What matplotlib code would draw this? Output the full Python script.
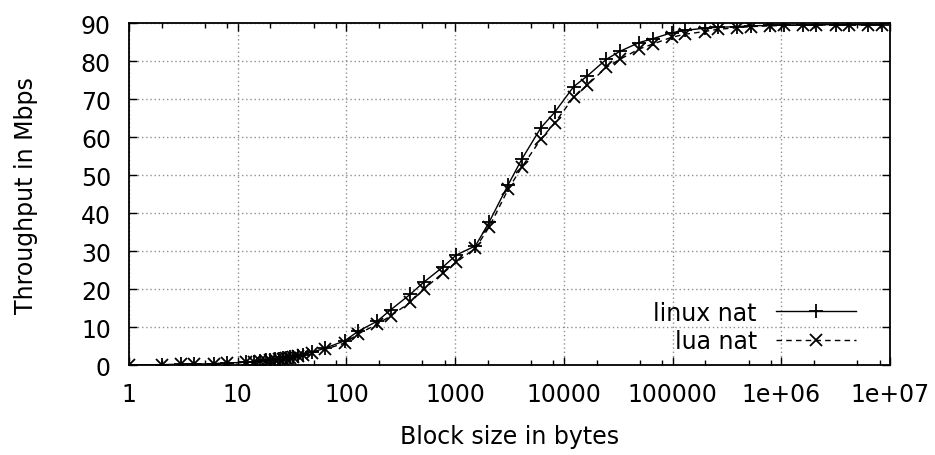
import matplotlib
matplotlib.use("Agg")
import matplotlib.pyplot as plt
from matplotlib.ticker import FixedLocator, FixedFormatter, LogLocator, NullFormatter

# --- data ---
block_sizes = [1, 2, 3, 4, 6, 8, 12, 14, 16, 18, 20, 22, 24, 26, 28, 30, 32, 36, 40, 48, 64,
               96, 128, 192, 256, 384, 512, 768, 1024, 1536, 2048, 3072, 4096, 6144, 8192,
               12288, 16384, 24576, 32768, 49152, 65536, 98304, 131072, 196608, 262144,
               393216, 524288, 786432, 1048576, 1572864, 2097152, 3145728, 4194304,
               6291456, 8388608]

linux_nat = [0.07, 0.14, 0.2, 0.27, 0.4, 0.55, 0.8, 0.95, 1.1, 1.25, 1.4, 1.5, 1.65, 1.8,
             1.95, 2.1, 2.25, 2.5, 2.8, 3.4, 4.5,
             6.4, 8.9, 11.6, 14.6, 18.6, 21.8, 25.8, 29.0, 31.4, 37.6, 47.5, 54.2, 62.5, 66.5,
             73.3, 76.1, 80.5, 82.6, 84.9, 85.9, 87.5, 88.1, 88.7, 88.9,
             89.1, 89.3, 89.4, 89.5, 89.5, 89.6, 89.6, 89.6,
             89.6, 89.6]

lua_nat = [0.06, 0.13, 0.19, 0.25, 0.37, 0.5, 0.75, 0.88, 1.0, 1.15, 1.3, 1.4, 1.55, 1.7,
           1.8, 1.95, 2.1, 2.35, 2.6, 3.2, 4.2,
           5.8, 8.2, 10.8, 13.0, 16.5, 20.0, 24.2, 27.1, 30.8, 36.3, 46.3, 52.1, 59.5, 63.7,
           70.5, 73.7, 78.4, 80.5, 83.2, 84.5, 86.3, 87.1, 87.8, 88.4,
           88.8, 89.1, 89.3, 89.4, 89.5, 89.5, 89.6, 89.6,
           89.6, 89.6]

x_ticks = [1, 10, 100, 1000, 10000, 100000, 1000000, 10000000]
x_tick_labels = ["1", "10", "100", "1000", "10000", "100000", "1e+06", "1e+07"]
y_ticks = [0, 10, 20, 30, 40, 50, 60, 70, 80, 90]

plt.rcParams['font.family'] = ['DejaVu Sans']
plt.rcParams['font.size'] = 17

fig = plt.figure(figsize=(9.35, 4.56), dpi=100)
ax = fig.add_axes([0.138, 0.197, 0.814, 0.75])

ax.plot(block_sizes, linux_nat, color='black', linestyle='-', linewidth=1.0,
        marker='+', markersize=10, markeredgewidth=1.3, label='linux nat')
ax.plot(block_sizes, lua_nat, color='black', linestyle=(0, (4, 3)), linewidth=1.0,
        marker='x', markersize=8, markeredgewidth=1.3, label='lua nat')

ax.set_xscale('log')
ax.set_xlim(1, 1e7)
ax.set_ylim(0, 90)

ax.xaxis.set_major_locator(FixedLocator(x_ticks))
ax.xaxis.set_major_formatter(FixedFormatter(x_tick_labels))
ax.xaxis.set_minor_locator(LogLocator(base=10, subs=[2, 5, 8]))
ax.xaxis.set_minor_formatter(NullFormatter())
ax.set_yticks(y_ticks)

ax.tick_params(which='both', direction='in', top=True, right=True)
ax.tick_params(which='major', length=6, width=1)
ax.tick_params(axis='x', which='major', pad=12)
ax.tick_params(axis='y', which='major', pad=13)
ax.tick_params(which='minor', length=3.5, width=1)

ax.grid(True, which='major', color='#909090', linestyle=(0, (1, 2)), linewidth=1)
for s in ax.spines.values():
    s.set_linewidth(1.3)

ax.set_xlabel("Block size in bytes", labelpad=13)
ax.set_ylabel("Throughput in Mbps", labelpad=31)

ax.legend(loc='lower right', bbox_to_anchor=(0.977, -0.014), frameon=False,
          markerfirst=False, handlelength=3.4, handletextpad=0.8,
          labelspacing=0.2, borderaxespad=0.3)

fig.savefig("out.png", dpi=100)
